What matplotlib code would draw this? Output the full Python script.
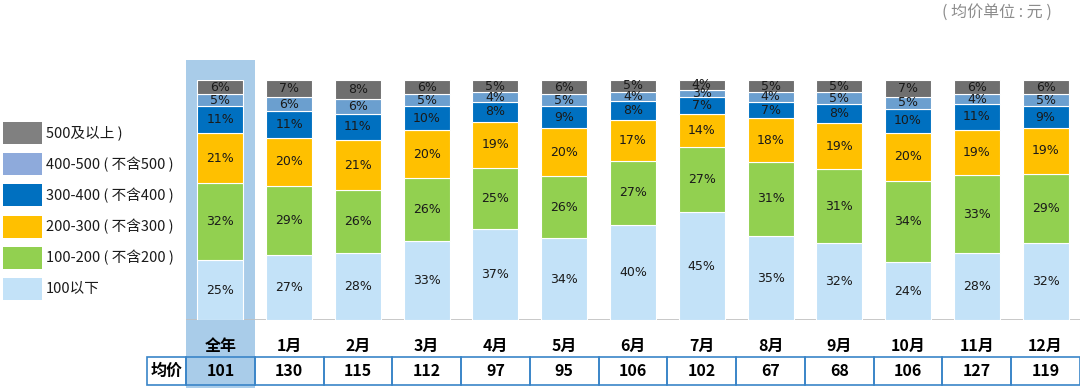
import matplotlib.pyplot as plt
from matplotlib.patches import Rectangle
import numpy as np

plt.rcParams['font.family'] = ['Noto Sans CJK SC', 'DejaVu Sans']

# categories and series (share in %, bottom to top)
months = ['全年', '1月', '2月', '3月', '4月', '5月', '6月', '7月', '8月', '9月', '10月', '11月', '12月']
below_100 = [25, 27, 28, 33, 37, 34, 40, 45, 35, 32, 24, 28, 32]
p100_200 = [32, 29, 26, 26, 25, 26, 27, 27, 31, 31, 34, 33, 29]
p200_300 = [21, 20, 21, 20, 19, 20, 17, 14, 18, 19, 20, 19, 19]
p300_400 = [11, 11, 11, 10, 8, 9, 8, 7, 7, 8, 10, 11, 9]
p400_500 = [5, 6, 6, 5, 4, 5, 4, 3, 4, 5, 5, 4, 5]
p500_up = [6, 7, 8, 6, 5, 6, 5, 4, 5, 5, 7, 6, 6]
avg_price = [101, 130, 115, 112, 97, 95, 106, 102, 67, 68, 106, 127, 119]

series = [below_100, p100_200, p200_300, p300_400, p400_500, p500_up]
labels = ['100以下', '100-200 ( 不含200 )', '200-300 ( 不含300 )',
          '300-400 ( 不含400 )', '400-500 ( 不含500 )', '500及以上 )']
bar_colors = ['#c3e2f8', '#92d050', '#ffc000', '#0070c0', '#6b9fcf', '#6f6f6f']
legend_colors = ['#c3e2f8', '#92d050', '#ffc000', '#0070c0', '#8eaadb', '#808080']

fig = plt.figure(figsize=(10.8, 3.88), dpi=100)
W, H = 1080, 388
ax = fig.add_axes([186 / W, (H - 320) / H, 894 / W, 240 / H])

x = np.arange(len(months))
data = np.array(series, dtype=float)
# each column fills the whole bar height
data = data / data.sum(axis=0) * 100

# highlight behind the full year column
ax.add_patch(Rectangle((-0.5, -28.5), 1.0, 137, facecolor='#a9cce9',
                       edgecolor='none', clip_on=False, zorder=0))

bottom = np.zeros(len(months))
for vals, raw, col in zip(data, series, bar_colors):
    ax.bar(x, vals, bottom=bottom, width=0.67, color=col, edgecolor='white',
           linewidth=0.8, zorder=2)
    for xi, b, v, r in zip(x, bottom, vals, raw):
        ax.text(xi, b + v / 2, f'{r}%', ha='center', va='center',
                fontsize=9, color='#1a1a1a', zorder=3,
                family=['DejaVu Sans'])
    bottom += vals

ax.axhline(0, color='#bfbfbf', lw=1.2, zorder=1)
ax.set_xlim(-0.5, len(months) - 0.5)
ax.set_ylim(0, 100)
ax.axis('off')

# month labels and price table
for xi, m, p in zip(x, months, avg_price):
    ax.text(xi, -10.8, m, ha='center', va='center', fontsize=11.5,
            fontweight='bold', clip_on=False)
    ax.add_patch(Rectangle((xi - 0.5, -27.2), 1.0, 11.7, facecolor='none',
                           edgecolor='#3a85c8', lw=1.2, clip_on=False, zorder=4))
    ax.text(xi, -21.3, str(p), ha='center', va='center', fontsize=11.5,
            fontweight='bold', clip_on=False)
ax.add_patch(Rectangle((-1.067, -27.2), 0.567, 11.7, facecolor='none',
                       edgecolor='#3a85c8', lw=1.2, clip_on=False, zorder=4))
ax.text(-0.78, -21.3, '均价', ha='center', va='center', fontsize=11.5,
        fontweight='bold', clip_on=False)

# legend on the left, top item first
for i, (lab, col) in enumerate(zip(labels[::-1], legend_colors[::-1])):
    yc = 133 + i * 31.2
    fig.add_artist(Rectangle((3 / W, 1 - (yc + 11) / H), 39 / W, 22 / H,
                             facecolor=col, edgecolor='none',
                             transform=fig.transFigure))
    fig.text(46 / W, 1 - yc / H, lab, ha='left', va='center', fontsize=10.5,
             color='#1a1a1a')

fig.text(1052 / W, 1 - 12 / H, '( 均价单位 : 元 )', ha='right', va='center',
         fontsize=11.5, color='#8c8c8c', style='italic')

fig.savefig('out.png', dpi=100)
